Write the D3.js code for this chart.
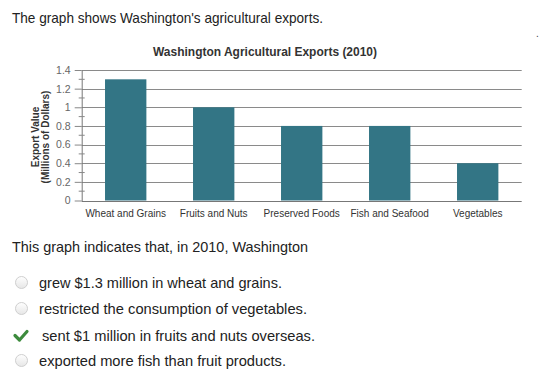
<!DOCTYPE html>
<html><head><meta charset="utf-8">
<script src="https://cdn.jsdelivr.net/npm/d3@7"></script>
<style>body{margin:0;background:#fff;}svg{display:block;}</style>
</head><body>
<script>
const categories = ["Wheat and Grains","Fruits and Nuts","Preserved Foods","Fish and Seafood","Vegetables"];
const values = [1.3, 1.0, 0.8, 0.8, 0.4];
const yTicks = [0,0.2,0.4,0.6,0.8,1,1.2,1.4];
const minorTicks = [0.1,0.3,0.5,0.7,0.9,1.1,1.3];
const chartTitle = "Washington Agricultural Exports (2010)";
const introText = "The graph shows Washington's agricultural exports.";
const questionText = "This graph indicates that, in 2010, Washington";
const options = ["grew $1.3 million in wheat and grains.","restricted the consumption of vegetables.","sent $1 million in fruits and nuts overseas.","exported more fish than fruit products."];
const correctIndex = 2;

(function(){
const W=558,H=371;
const svg=d3.select("body").append("svg").attr("width",W).attr("height",H);
const font="'Liberation Sans', Arial, sans-serif";

svg.append("text").attr("x",12).attr("y",23).attr("font-family",font).attr("font-size",14.5).attr("fill","#222")
  .attr("textLength",311).attr("lengthAdjust","spacingAndGlyphs").text(introText);
svg.append("text").attr("x",536).attr("y",37).attr("font-family",font).attr("font-size",10).attr("fill","#444").text(".");

const pL=81.7,pR=521.7,pT=70,pB=200.5;
const x=d3.scaleBand().domain(categories).range([pL,pR]).paddingInner(0.53).paddingOuter(0.265);
const y=d3.scaleLinear().domain([0,1.4]).range([pB,pT]);

svg.append("text").attr("x",265).attr("y",56).attr("text-anchor","middle").attr("font-family",font).attr("font-weight","bold").attr("font-size",12.5).attr("fill","#333")
  .attr("textLength",224).attr("lengthAdjust","spacingAndGlyphs").text(chartTitle);

svg.append("g").selectAll("line").data(yTicks.filter(d=>d>0)).join("line")
 .attr("x1",pL).attr("x2",pR).attr("y1",d=>Math.round(y(d))+0.5).attr("y2",d=>Math.round(y(d))+0.5)
 .attr("stroke","#8a8a8a").attr("stroke-width",1);

svg.append("g").selectAll("rect").data(values).join("rect")
 .attr("x",(d,i)=>x(categories[i])).attr("width",x.bandwidth())
 .attr("y",d=>y(d)).attr("height",d=>y(0)-y(d)).attr("fill","#337585");

const yAxis=d3.axisLeft(y).tickValues(yTicks).tickSize(7).tickSizeOuter(0).tickPadding(4)
 .tickFormat(d=>d3.format("~g")(d));
const gy=svg.append("g").attr("transform",`translate(${pL},0)`).call(yAxis);
gy.select(".domain").attr("stroke","#777");
gy.selectAll(".tick line").attr("stroke","#888");
gy.selectAll("text").attr("font-family",font).attr("font-size",10.5).attr("fill","#666");
svg.append("g").selectAll("line").data(minorTicks).join("line")
 .attr("x1",pL-3).attr("x2",pL+3).attr("y1",d=>y(d)).attr("y2",d=>y(d)).attr("stroke","#888");

const xAxis=d3.axisBottom(x).tickSize(0).tickPadding(8).tickSizeOuter(0);
const gx=svg.append("g").attr("transform",`translate(0,${Math.round(pB)+0.5})`).call(xAxis);
gx.select(".domain").attr("stroke","#777").attr("d",`M${pL},0H${pR}`);
gx.selectAll("text").attr("font-family",font).attr("font-size",10).attr("fill","#333");

const yl=svg.append("g").attr("transform","translate(39,137) rotate(-90)");
yl.append("text").attr("x",0).attr("y",0).attr("text-anchor","middle").attr("font-family",font).attr("font-weight","bold").attr("font-size",10).attr("fill","#333").text("Export Value");
yl.append("text").attr("x",0).attr("y",10).attr("text-anchor","middle").attr("font-family",font).attr("font-weight","bold").attr("font-size",10).attr("fill","#333").text("(Millions of Dollars)");

svg.append("text").attr("x",12).attr("y",252).attr("font-family",font).attr("font-size",14.5).attr("fill","#222")
  .attr("textLength",296).attr("lengthAdjust","spacingAndGlyphs").text(questionText);

const defs=svg.append("defs");
const grad=defs.append("linearGradient").attr("id","rg").attr("x1",0).attr("y1",0).attr("x2",0).attr("y2",1);
grad.append("stop").attr("offset","0").attr("stop-color","#ffffff");
grad.append("stop").attr("offset","1").attr("stop-color","#e6e6e6");

const oy=[282.5,308.5,335.5,360.5];
const ox=[39,39,42,39];
const oLen=[243,268,273,247];
options.forEach((t,i)=>{
  if(i===correctIndex){
    svg.append("path").attr("d",`M15,${oy[i]} L19.5,${oy[i]+4.5} L27,${oy[i]-4}`).attr("fill","none").attr("stroke","#3d8b3d").attr("stroke-width",3.2).attr("stroke-linecap","round").attr("stroke-linejoin","round");
  } else {
    svg.append("circle").attr("cx",21.5).attr("cy",oy[i]).attr("r",6).attr("fill","url(#rg)").attr("stroke","#cfcfcf");
  }
  svg.append("text").attr("x",ox[i]).attr("y",oy[i]+5).attr("font-family",font).attr("font-size",14.5).attr("fill","#222")
    .attr("textLength",oLen[i]).attr("lengthAdjust","spacingAndGlyphs").text(t);
});
})();
</script>
</body></html>
